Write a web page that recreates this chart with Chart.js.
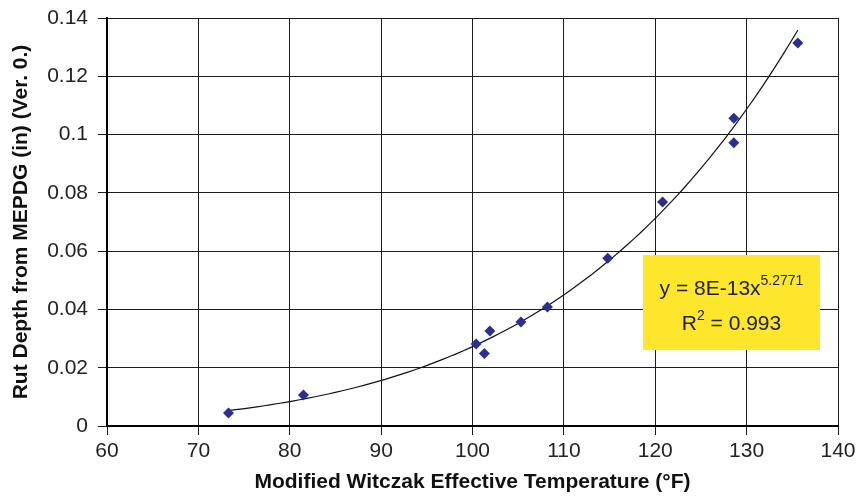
<!DOCTYPE html>
<html>
<head>
<meta charset="utf-8">
<script src="https://cdn.jsdelivr.net/npm/chart.js@4"></script>
<style>
  html, body { margin: 0; padding: 0; background: #fff; }
  #wrap { width: 856px; height: 496px; }
</style>
</head>
<body>
<div id="wrap"><canvas id="grafica" width="856" height="496"></canvas></div>
<script>
// temperatura efectiva (°F) y ahuellamiento MEPDG (in)
const temperaturas = [73.3, 81.5, 100.4, 101.3, 101.9, 105.3, 108.2, 114.8, 120.8, 128.6, 128.6, 135.6];
const ahuellamiento = [0.0045, 0.0106, 0.0281, 0.0249, 0.0326, 0.0357, 0.0408, 0.0576, 0.0769, 0.1056, 0.0972, 0.1314];

// tendencia potencial y = a * x^b
const coefA = 7.6e-13;
const expB = 5.2771;
const r2 = 0.993;

const xTicks = [60, 70, 80, 90, 100, 110, 120, 130, 140];
const yTicks = [0, 0.02, 0.04, 0.06, 0.08, 0.1, 0.12, 0.14];

const fuente = "'Liberation Sans', Arial, sans-serif";

// puntos de la curva entre el minimo y maximo de temperatura
const tMin = Math.min(...temperaturas);
const tMax = Math.max(...temperaturas);
const curva = [];
for (let i = 0; i <= 80; i++) {
  const t = tMin + (tMax - tMin) * i / 80;
  curva.push({ x: t, y: coefA * Math.pow(t, expB) });
}

const puntos = temperaturas.map((t, i) => ({ x: t, y: ahuellamiento[i] }));

// cuadro amarillo con la ecuacion
const cuadroEcuacion = {
  id: "cuadroEcuacion",
  afterDatasetsDraw(chart) {
    const ctx = chart.ctx;
    const area = chart.chartArea;
    const bx = area.left + 536, by = area.top + 237, bw = 177, bh = 95;
    ctx.save();
    ctx.fillStyle = "#FDE62C";
    ctx.fillRect(bx, by, bw, bh);

    ctx.fillStyle = "#222";
    ctx.textBaseline = "alphabetic";
    const cx = bx + bw / 2;
    const grande = "21px " + fuente;
    const chica = "14px " + fuente;

    // linea 1: y = 8E-13x^5.2771
    const base1 = "y = " + coefA.toExponential(0).toUpperCase().replace("+", "") + "x";
    const sup1 = expB.toFixed(4);
    ctx.font = grande;
    const w1 = ctx.measureText(base1).width;
    ctx.font = chica;
    const s1 = ctx.measureText(sup1).width;
    let x0 = cx - (w1 + s1) / 2;
    ctx.font = grande;
    ctx.fillText(base1, x0, by + 40);
    ctx.font = chica;
    ctx.fillText(sup1, x0 + w1, by + 30);

    // linea 2: R^2 = 0.993
    ctx.font = grande;
    const rW = ctx.measureText("R").width;
    const resto = " = " + r2.toFixed(3);
    const restoW = ctx.measureText(resto).width;
    ctx.font = chica;
    const dosW = ctx.measureText("2").width;
    x0 = cx - (rW + dosW + restoW) / 2;
    ctx.font = grande;
    ctx.fillText("R", x0, by + 75);
    ctx.fillText(resto, x0 + rW + dosW, by + 75);
    ctx.font = chica;
    ctx.fillText("2", x0 + rW, by + 65);
    ctx.restore();
  }
};

new Chart(document.getElementById("grafica"), {
  type: "scatter",
  data: {
    datasets: [
      {
        label: "MEPDG",
        data: puntos,
        pointStyle: "rectRot",
        pointRadius: 5.5,
        pointBackgroundColor: "#2B2F8F",
        pointBorderColor: "#2B2F8F",
        pointBorderWidth: 0,
        order: 1
      },
      {
        label: "Tendencia",
        data: curva,
        showLine: true,
        borderColor: "#111",
        borderWidth: 1.2,
        pointRadius: 0,
        tension: 0,
        order: 2
      }
    ]
  },
  options: {
    responsive: false,
    animation: false,
    layout: { padding: { top: 18, right: 18, left: 0, bottom: 0 } },
    plugins: {
      legend: { display: false },
      tooltip: { enabled: false }
    },
    scales: {
      x: {
        type: "linear",
        min: 60,
        max: 140,
        afterBuildTicks: (scale) => { scale.ticks = xTicks.map(v => ({ value: v })); },
        afterFit: (scale) => {
          scale.height = 70;
          scale.paddingLeft = 0;
          scale.paddingRight = 0;
        },
        grid: { color: "#1c1c1c", lineWidth: 1, tickLength: 9 },
        border: { color: "#000", width: 2 },
        ticks: {
          color: "#222",
          font: { family: fuente, size: 21 },
          padding: 4,
          maxRotation: 0
        },
        title: {
          display: true,
          text: "Modified Witczak Effective Temperature (°F)",
          color: "#111",
          font: { family: fuente, size: 21, weight: "bold" },
          padding: { top: 0, bottom: 1 }
        }
      },
      y: {
        type: "linear",
        min: 0,
        max: 0.14,
        afterBuildTicks: (scale) => { scale.ticks = yTicks.map(v => ({ value: v })); },
        afterFit: (scale) => {
          scale.width = 107;
          scale.paddingTop = 0;
          scale.paddingBottom = 0;
        },
        grid: { color: "#1c1c1c", lineWidth: 1, tickLength: 9 },
        border: { color: "#000", width: 2 },
        ticks: {
          color: "#222",
          font: { family: fuente, size: 21 },
          padding: 10,
          callback: (v) => String(Number(v.toFixed(2)))
        },
        title: {
          display: true,
          text: "Rut Depth from MEPDG (in) (Ver. 0.)",
          color: "#111",
          font: { family: fuente, size: 21, weight: "bold" },
          padding: { top: 9, bottom: 0 }
        }
      }
    }
  },
  plugins: [cuadroEcuacion]
});
</script>
</body>
</html>
